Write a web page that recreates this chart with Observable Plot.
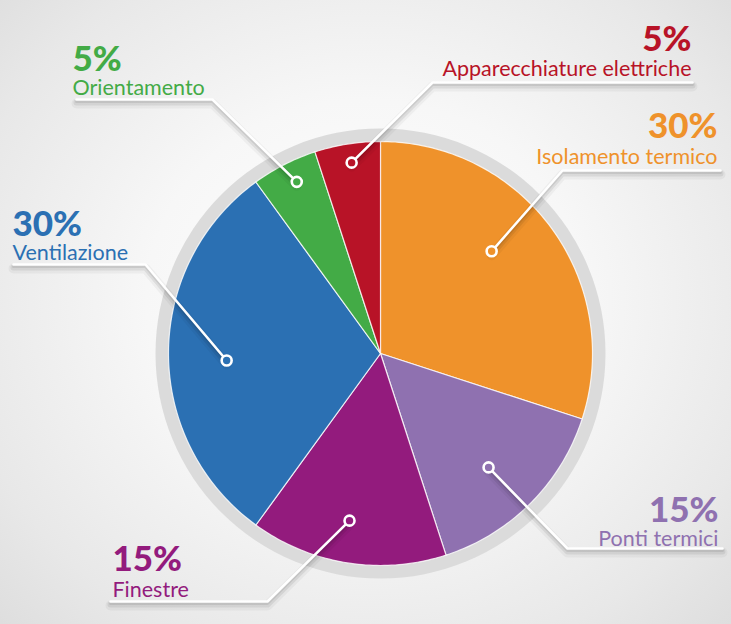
<!DOCTYPE html>
<html>
<head>
<meta charset="utf-8">
<script src="https://cdn.jsdelivr.net/npm/d3@7"></script>
<script src="https://cdn.jsdelivr.net/npm/@observablehq/plot@0.6"></script>
<style>
  html, body { margin: 0; padding: 0; }
  body { width: 731px; height: 624px; overflow: hidden;
    background: radial-gradient(ellipse 75% 80% at 50% 48%, #ffffff 0%, #f7f7f7 40%, #e8e8e8 75%, #dadada 100%); }
  #chart svg { display: block; }
</style>
</head>
<body>
<div id="chart"></div>
<script>
// ---- data ----
const names = ["Isolamento termico", "Ponti termici", "Finestre", "Ventilazione", "Orientamento", "Apparecchiature elettriche"];
const values = [30, 15, 15, 30, 5, 5];
const colors = ["#ef922b", "#8f71b0", "#931b7d", "#2b70b3", "#43ab46", "#b81327"];

// ---- layout (annotation geometry, pixels) ----
const W = 731, H = 624;
const cx = 380, cy = 353, R = 212, ringR = 225;
// dot: radius from centre & angle shift (deg) from slice mid; elbow of leader; end x of leader; text anchor
const ann = [
  {dotR: 151, shift: -6.6, ex: 562, ey: 170, endX: 720, tx: 717, anchor: "end",   pctY: 127, nameY: 157},
  {dotR: 157, shift: 1.5,  ex: 567, ey: 548, endX: 722, tx: 718, anchor: "end",   pctY: 511, nameY: 539},
  {dotR: 170, shift: 1.5,  ex: 267, ey: 601, endX: 110, tx: 112, anchor: "start", pctY: 560, nameY: 590},
  {dotR: 154, shift: -2.6, ex: 145, ey: 264, endX: 13,  tx: 12,  anchor: "start", pctY: 225, nameY: 253},
  {dotR: 191, shift: 1.0,  ex: 212, ey: 99,  endX: 76,  tx: 72,  anchor: "start", pctY: 60,  nameY: 88},
  {dotR: 193, shift: 0.4,  ex: 432, ey: 82,  endX: 692, tx: 691, anchor: "end",   pctY: 40,  nameY: 69}
];

const rows = names.map((n, i) => ({name: n, value: values[i], color: colors[i]}));
const arcs = d3.pie().sort(null).value(d => d.value)(rows);

const polar = (a, r) => [cx + r * Math.sin(a), cy - r * Math.cos(a)];

// slice polygons from pie angles
const slicePts = [];
arcs.forEach(a => {
  slicePts.push({name: a.data.name, x: cx, y: cy});
  const n = Math.max(4, Math.ceil((a.endAngle - a.startAngle) / (Math.PI / 180)));
  for (let k = 0; k <= n; k++) {
    const t = a.startAngle + (a.endAngle - a.startAngle) * k / n;
    const [x, y] = polar(t, R);
    slicePts.push({name: a.data.name, x, y});
  }
});

// leader lines and dots
const dots = arcs.map((a, i) => {
  const mid = (a.startAngle + a.endAngle) / 2 + ann[i].shift * Math.PI / 180;
  const [x, y] = polar(mid, ann[i].dotR);
  return {name: a.data.name, x, y, color: a.data.color};
});
const leaders = [];
dots.forEach((d, i) => {
  leaders.push({name: d.name, x: d.x, y: d.y});
  leaders.push({name: d.name, x: ann[i].ex, y: ann[i].ey});
  leaders.push({name: d.name, x: ann[i].endX, y: ann[i].ey});
});

const pctFS = 35, nameFS = 21.5;
const labels = rows.map((r, i) => ({...r, ...ann[i], pct: r.value + "%"}));
const left = labels.filter(d => d.anchor === "start");
const right = labels.filter(d => d.anchor === "end");

const font = "Lato, 'Open Sans', sans-serif";

const chart = Plot.plot({
  width: W, height: H,
  margin: 0,
  x: {domain: [0, W], range: [0, W], axis: null},
  y: {domain: [0, H], range: [0, H], axis: null},
  color: {domain: names, range: colors},
  style: {background: "transparent", fontFamily: font, overflow: "visible"},
  marks: [
    // grey ring
    Plot.dot([{x: cx, y: cy}], {x: "x", y: "y", r: ringR, fill: "#dbdbdb", stroke: "none"}),
    // slices
    Plot.line(slicePts, {x: "x", y: "y", z: "name", fill: "name", stroke: "#ffffff", strokeWidth: 1.2, strokeOpacity: 0.8, curve: "linear-closed"}),
    // leader shadows
    Plot.line(leaders, {x: "x", y: "y", z: "name", stroke: "#000", strokeOpacity: 0.04, strokeWidth: 10, dy: 4, strokeLinejoin: "round"}),
    Plot.line(leaders, {x: "x", y: "y", z: "name", stroke: "#000", strokeOpacity: 0.07, strokeWidth: 6, dy: 3, strokeLinejoin: "round"}),
    Plot.line(leaders, {x: "x", y: "y", z: "name", stroke: "#000", strokeOpacity: 0.08, strokeWidth: 3, dy: 2, strokeLinejoin: "round"}),
    // leaders
    Plot.line(leaders, {x: "x", y: "y", z: "name", stroke: "#ffffff", strokeWidth: 2.6}),
    // dots
    Plot.dot(dots, {x: "x", y: "y", r: 5, fill: "name", stroke: "#ffffff", strokeWidth: 2.6}),
    // percentages
    Plot.text(left, {x: "tx", y: d => d.pctY + 0.29 * pctFS, text: "pct", fill: "name", textAnchor: "start", lineAnchor: "bottom", fontSize: pctFS, fontWeight: 900, letterSpacing: "0.5px"}),
    Plot.text(right, {x: "tx", y: d => d.pctY + 0.29 * pctFS, text: "pct", fill: "name", textAnchor: "end", lineAnchor: "bottom", fontSize: pctFS, fontWeight: 900, letterSpacing: "0.5px"}),
    // names
    Plot.text(left, {x: "tx", y: d => d.nameY + 0.29 * nameFS, text: "name", fill: "name", textAnchor: "start", lineAnchor: "bottom", fontSize: nameFS}),
    Plot.text(right, {x: "tx", y: d => d.nameY + 0.29 * nameFS, text: "name", fill: "name", textAnchor: "end", lineAnchor: "bottom", fontSize: nameFS})
  ]
});
document.getElementById("chart").append(chart);
</script>
</body>
</html>
